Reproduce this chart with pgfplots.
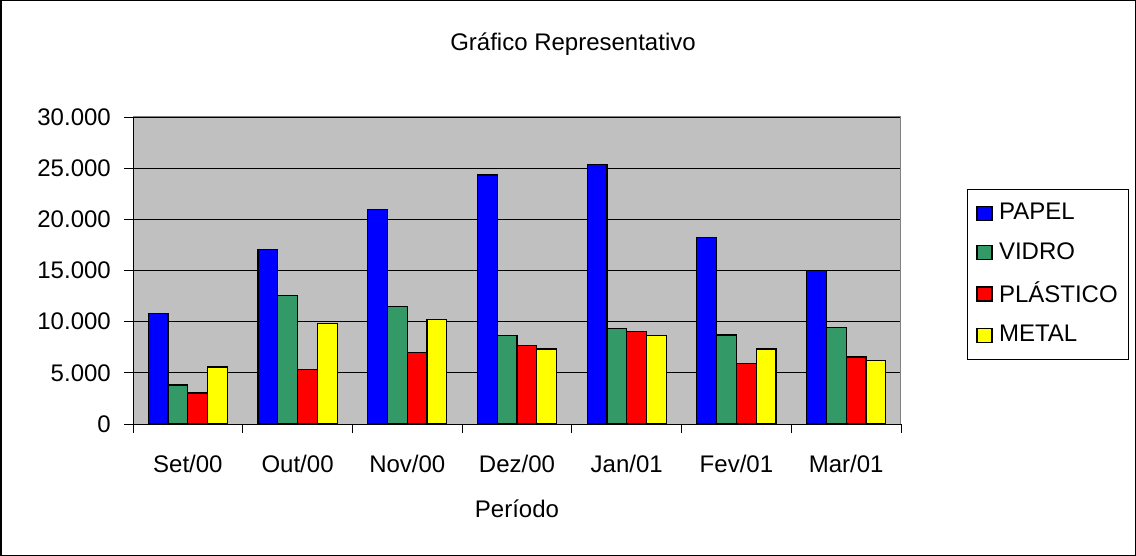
\documentclass[border=0pt]{standalone}
\usepackage{pgfplots}
\pgfplotsset{compat=1.18}
\usepackage{fontspec}
\setmainfont{Liberation Sans}
\definecolor{bgray}{HTML}{C0C0C0}
\definecolor{cpapel}{HTML}{0000FF}
\definecolor{cvidro}{HTML}{339966}
\definecolor{cplast}{HTML}{FF0000}
\definecolor{cmetal}{HTML}{FFFF00}
\newcommand{\cf}{\fontsize{24bp}{28bp}\selectfont}
\begin{document}
\begin{tikzpicture}
\cf
\draw[line width=1.5bp] (0.75bp,0.75bp) rectangle (1135.25bp,555.25bp);
\node at (573bp,512bp) {Gráfico Representativo};
\begin{axis}[
  at={(133bp,132bp)}, anchor=south west,
  scale only axis, width=768bp, height=307bp,
  ybar=0pt, bar width=19.8bp,
  xmin=0.5, xmax=7.5, ymin=0, ymax=30000,
  xtick={1,...,7},
  xticklabels={Set/00,Out/00,Nov/00,Dez/00,Jan/01,Fev/01,Mar/01},
  minor xtick={0.5,1.5,...,7.5},
  ytick={0,5000,...,30000},
  yticklabel style={/pgf/number format/1000 sep={.}, /pgf/number format/assume math mode=true, xshift=-5bp},
  scaled y ticks=false,
  tick align=outside,
  major x tick style={draw=none},
  minor tick length=9bp, major tick length=9bp,
  tick style={black, line width=0.8bp},
  axis x line*=bottom, axis y line*=left,
  axis line style={black, line width=0.8bp, -},
  axis background/.style={fill=bgray},
  ymajorgrids, grid style={black, line width=0.8bp},
  font=\cf,
  xticklabel style={yshift=-14bp},
  xlabel={Período},
  xlabel style={yshift=-11bp},
  legend style={at={(1.086,0.7655)}, anchor=north west, draw=black, line width=0.8bp,
    font=\cf, row sep=15bp, inner xsep=9bp, inner ysep=12bp},
  legend cell align=left,
  legend image code/.code={\draw[#1, line width=1.2bp, draw=black] (0bp,-7bp) rectangle (15bp,7bp); \path[draw=none, fill=none] (0bp,0bp) -- (20bp,0bp);},
  every axis plot/.append style={draw=black, line width=1.2bp},
]
\addplot[fill=cpapel] coordinates {(1,10836) (2,17083) (3,20956) (4,24340) (5,25349) (6,18190) (7,15033)};
\addplot[fill=cvidro] coordinates {(1,3807) (2,12593) (3,11454) (4,8656) (5,9306) (6,8688) (7,9404)};
\addplot[fill=cplast] coordinates {(1,3026) (2,5304) (3,6963) (4,7679) (5,9046) (6,5922) (7,6541)};
\addplot[fill=cmetal] coordinates {(1,5564) (2,9827) (3,10185) (4,7322) (5,8656) (6,7322) (7,6215)};
\legend{PAPEL,VIDRO,PLÁSTICO,METAL}
\draw[gray, line width=1bp] (rel axis cs:0,1) -- (rel axis cs:1,1) -- (rel axis cs:1,0);
\end{axis}
\end{tikzpicture}
\end{document}
